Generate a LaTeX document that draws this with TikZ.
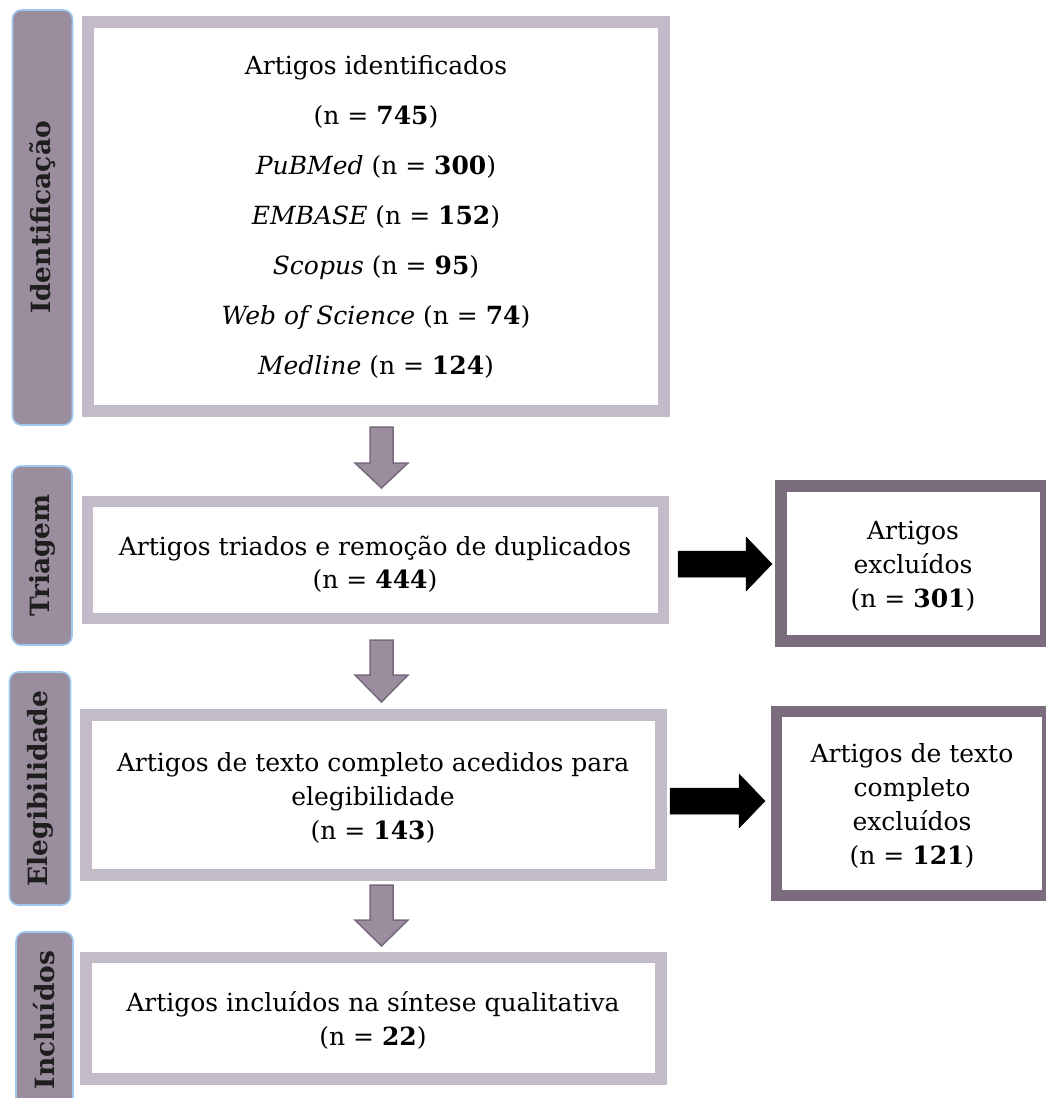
\documentclass[tikz,border=0pt]{standalone}
\usepackage{fontspec}
\setmainfont{DejaVu Serif}
\usetikzlibrary{calc}
\definecolor{lightbox}{RGB}{195,187,199}
\definecolor{darkbox}{RGB}{122,108,125}
\definecolor{tabfill}{RGB}{154,141,158}
\definecolor{tabborder}{RGB}{158,200,240}
\definecolor{arrowline}{RGB}{120,106,124}
\definecolor{tabtext}{RGB}{30,30,30}
\tikzset{
  mainbox/.style={draw=lightbox, fill=white, rectangle, inner sep=0pt, outer sep=0pt},
  exclbox/.style={draw=darkbox, fill=white, rectangle, inner sep=0pt, outer sep=0pt},
  tabbox/.style={draw=tabborder, line width=1.6pt, fill=tabfill, rounded corners=9pt,
     rectangle, inner sep=0pt, text=tabtext, font=\fontsize{26.5}{30}\selectfont\bfseries},
  bodytext/.style={align=center, inner sep=0pt, font=\fontsize{25}{34}\selectfont},
  downarr/.style={fill=tabfill, draw=arrowline, line width=1.5pt, line join=miter},
  rightarr/.style={fill=black, draw=black, line width=0.5pt}
}
\newcommand\blockdown[4]{%
  \filldraw[downarr] (#1-11.5,#2) -- (#1+11.5,#2) -- (#1+11.5,#3) -- (#1+26.5,#3)
    -- (#1,#4) -- (#1-26.5,#3) -- (#1-11.5,#3) -- cycle;}
\begin{document}
\begin{tikzpicture}[x=1pt,y=-1pt]
\useasboundingbox (0,0) rectangle (1046,1098);
% side tabs
\node[tabbox, rotate=90, minimum width=415, minimum height=60] (s1) at (42.5,217.5) {Identificação};
\node[tabbox, rotate=90, minimum width=179, minimum height=60] (s2) at (42,555.5) {Triagem};
\node[tabbox, rotate=90, minimum width=233, minimum height=61] (s3) at (40,788.5) {Elegibilidade};
\node[tabbox, rotate=90, minimum width=176, minimum height=57] (s4) at (44.5,1020) {Incluídos};
% main boxes
\node[mainbox, line width=12pt, minimum width=576, minimum height=389] (b1) at (376,216.5) {};
\node[mainbox, line width=11pt, minimum width=576, minimum height=117] (b2) at (375.5,560) {};
\node[mainbox, line width=12pt, minimum width=575, minimum height=160] (b3) at (373.5,795) {};
\node[mainbox, line width=11.5pt, minimum width=575, minimum height=121.5] (b4) at (373.5,1018.25) {};
% exclusion boxes
\node[exclbox, line width=12pt, minimum width=265, minimum height=155] (e1) at (913.5,563.5) {};
\node[exclbox, line width=11pt, minimum width=271, minimum height=184] (e2) at (912,803.5) {};
% texts
\node[bodytext, font=\fontsize{25}{50}\selectfont] (t1) at (b1.center) {Artigos identificados\\
  (n = \textbf{745})\\
  \textit{PuBMed} (n = \textbf{300})\\
  \textit{EMBASE} (n = \textbf{152})\\
  \textit{Scopus} (n = \textbf{95})\\
  \textit{Web of Science} (n = \textbf{74})\\
  \textit{Medline} (n = \textbf{124})};
\node[bodytext, font=\fontsize{25}{33}\selectfont] (t2) at (375,564) {Artigos triados e remoção de duplicados\\(n = \textbf{444})};
\node[bodytext] (t3) at (373,797.5) {Artigos de texto completo acedidos para\\elegibilidade\\(n = \textbf{143})};
\node[bodytext] (t4) at (373,1020) {Artigos incluídos na síntese qualitativa\\(n = \textbf{22})};
\node[bodytext] (te1) at (913,566) {Artigos\\excluídos\\(n = \textbf{301})};
\node[bodytext] (te2) at (912,806) {Artigos de texto\\completo\\excluídos\\(n = \textbf{121})};
% down block arrows
\blockdown{381.5}{427}{463}{488}
\blockdown{381.5}{640}{675}{702}
\blockdown{381.5}{885}{920}{946}
% right block arrows
\filldraw[rightarr] (678,551) -- (746,551) -- (746,537) -- (772,564) -- (746,591) -- (746,577) -- (678,577) -- cycle;
\filldraw[rightarr] (670,788) -- (739,788) -- (739,774) -- (765,801) -- (739,828) -- (739,814) -- (670,814) -- cycle;
\end{tikzpicture}
\end{document}
